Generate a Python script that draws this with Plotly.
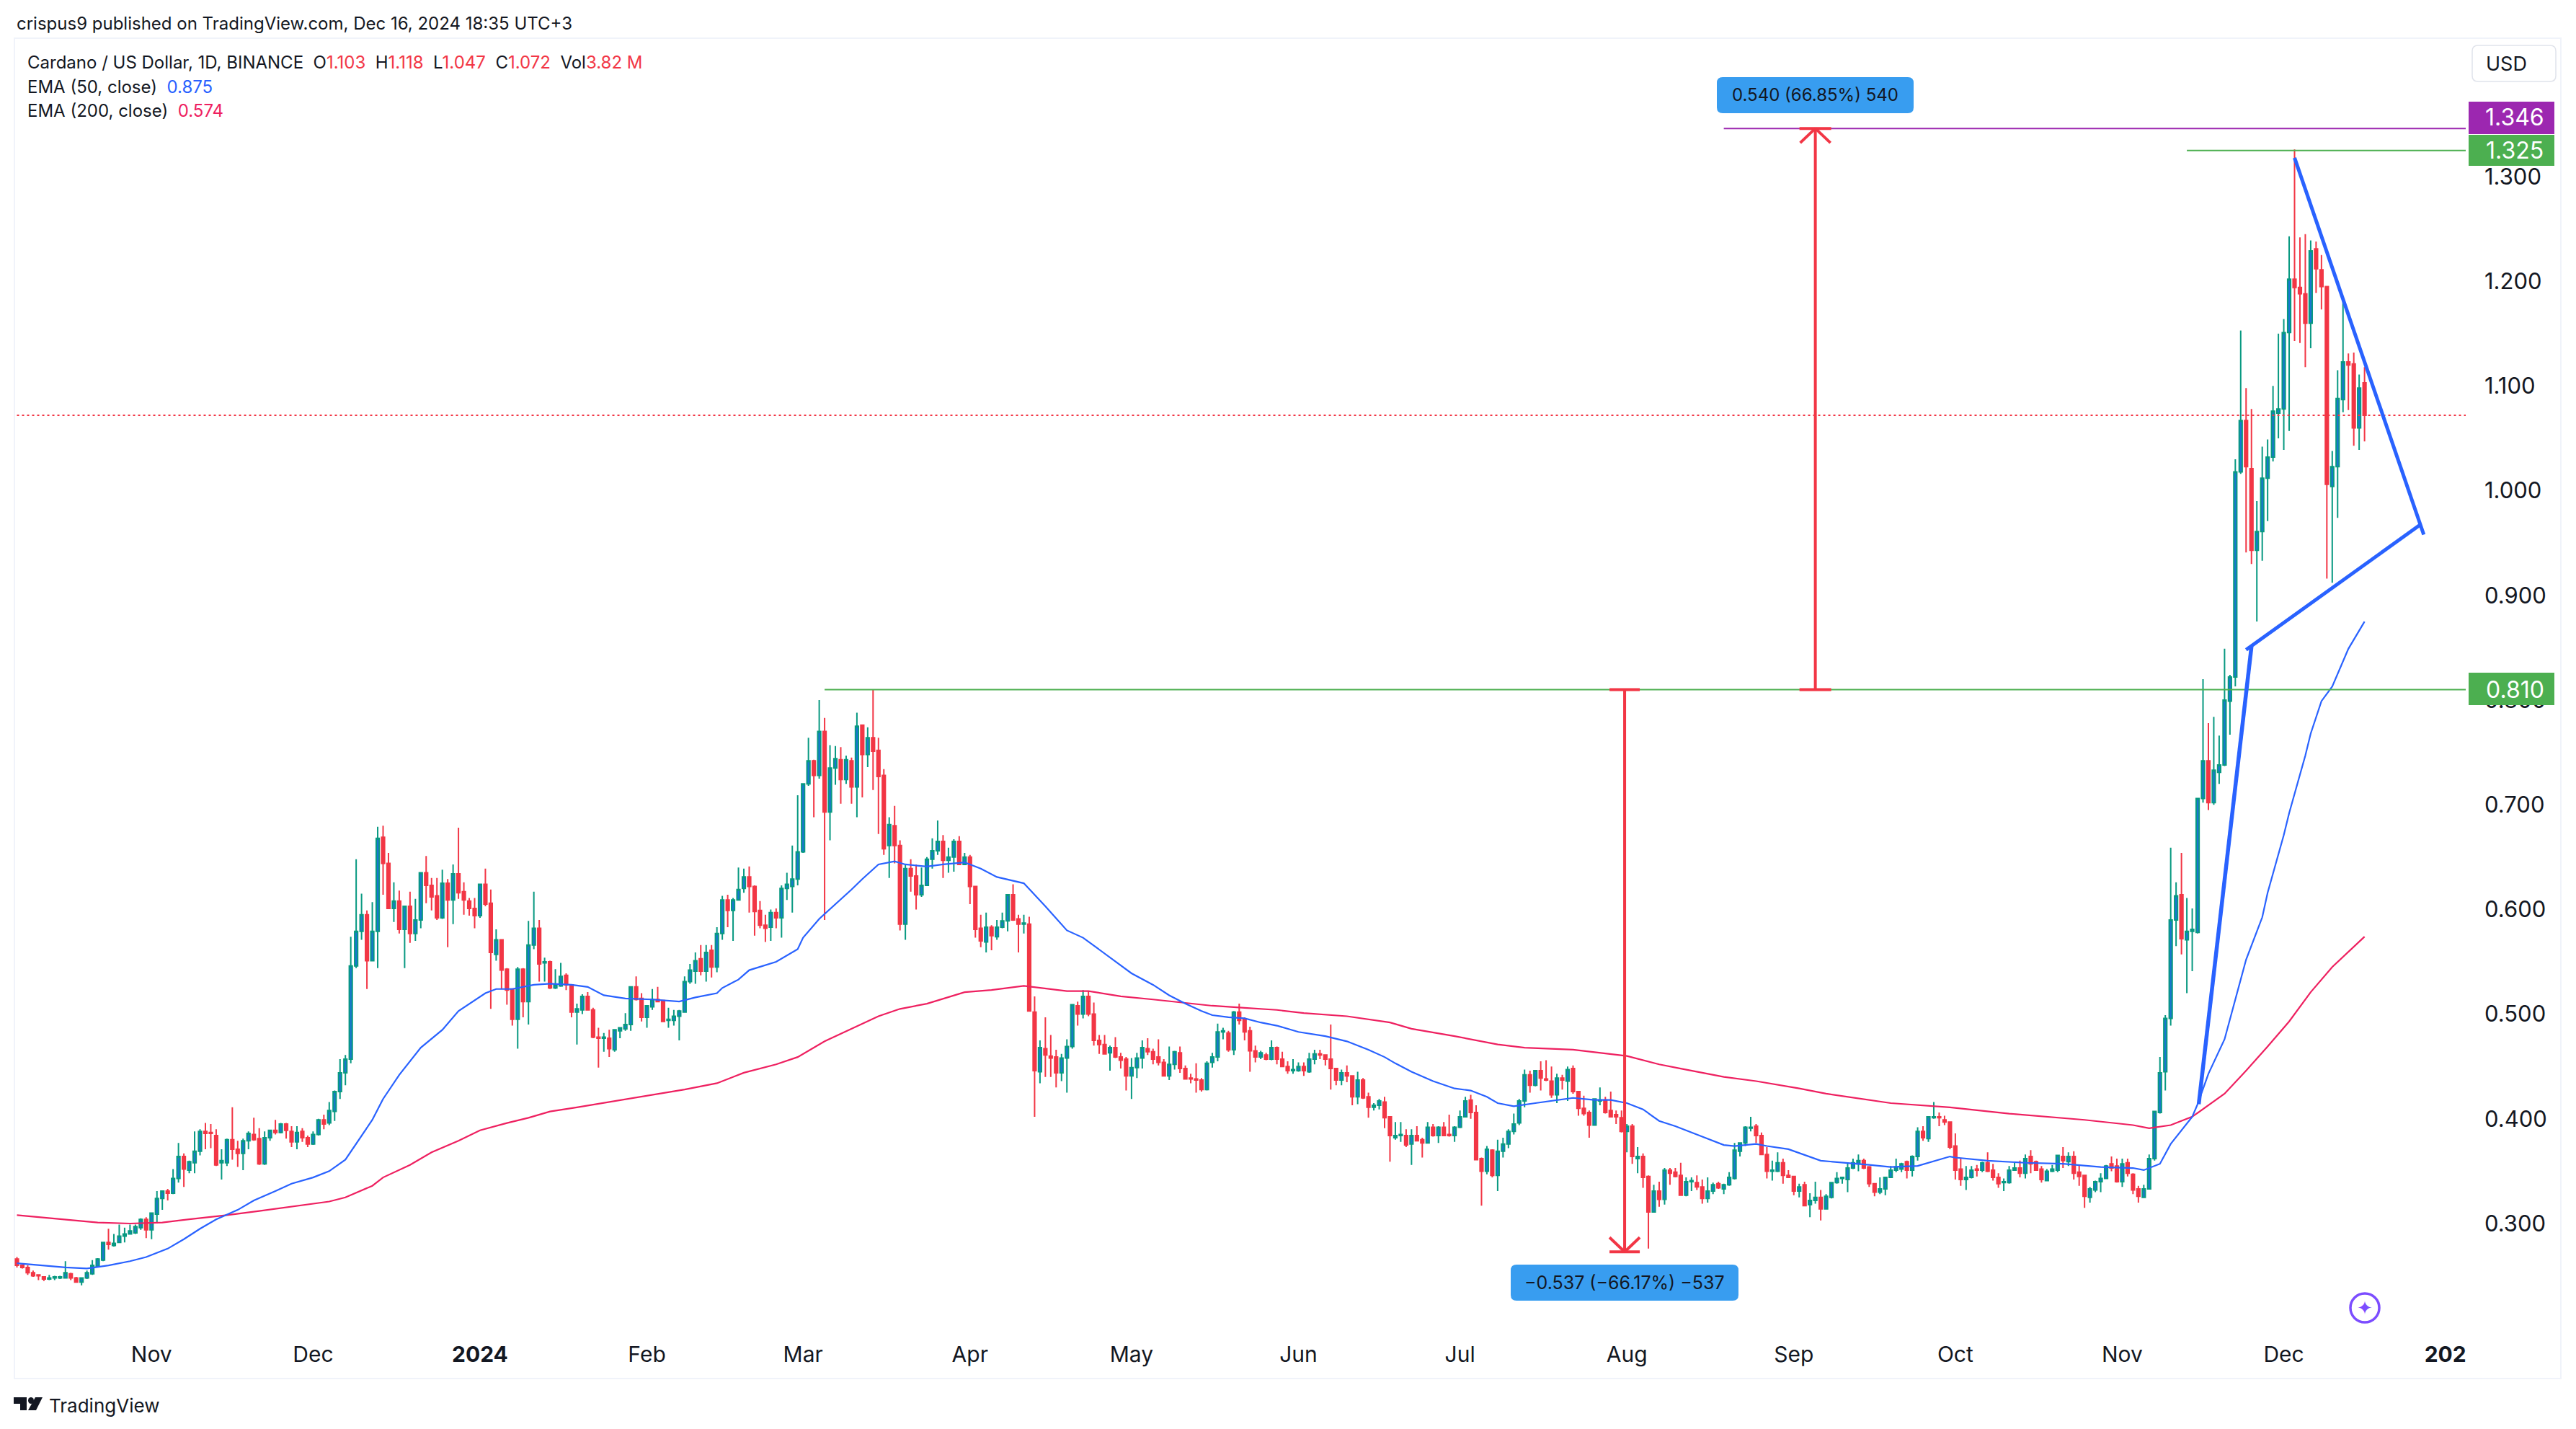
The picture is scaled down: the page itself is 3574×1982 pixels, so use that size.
import pandas as pd
import plotly.graph_objects as go

# Daily candles (open, high, low, close), one list per calendar month
oct_2023 = [(.266,.268,.258,.260),(.26,.261,.257,.258),(.258,.26,.251,.253),(.253,.255,.249,.25),(.251,.251,.246,.25),
(.249,.249,.245,.247),(.247,.251,.246,.248),(.248,.25,.246,.249),(.248,.25,.247,.249),(.248,.264,.248,.253),
(.252,.253,.246,.248),(.248,.249,.244,.244),(.244,.248,.241,.248),(.248,.255,.247,.253),(.252,.265,.251,.26),
(.259,.267,.258,.266),(.265,.282,.264,.282),(.282,.295,.275,.28),(.279,.29,.278,.281),(.282,.299,.282,.288),
(.288,.296,.282,.29),(.29,.299,.29,.293),(.291,.299,.29,.297),(.296,.305,.294,.304),(.304,.306,.286,.294)]
nov_2023 = [(.294,.31,.285,.31),(.309,.331,.30,.324),(.324,.331,.313,.331),(.331,.333,.322,.329),(.329,.352,.328,.343),
(.343,.377,.339,.364),(.364,.367,.335,.352),(.351,.36,.348,.359),(.358,.388,.348,.369),(.369,.39,.365,.388),
(.388,.396,.371,.386),(.387,.395,.372,.386),(.384,.39,.355,.356),(.358,.371,.342,.36),(.358,.381,.355,.38),
(.38,.411,.361,.371),(.371,.379,.354,.367),(.367,.381,.351,.379),(.379,.388,.371,.386),(.385,.401,.379,.38),
(.381,.391,.356,.357),(.357,.388,.356,.382),(.382,.389,.379,.389),(.389,.399,.385,.387),(.387,.396,.386,.395),
(.395,.396,.381,.389),(.388,.393,.373,.378),(.378,.393,.371,.387),(.388,.391,.378,.382),(.382,.384,.373,.376)]
dec_2023 = [(.376,.388,.375,.385),(.385,.40,.384,.399),(.399,.404,.39,.395),(.396,.416,.394,.408),(.407,.427,.398,.426),
(.426,.457,.419,.444),(.444,.461,.432,.457),(.457,.574,.453,.546),(.546,.648,.544,.579),(.579,.615,.571,.595),
(.595,.599,.524,.551),(.551,.607,.551,.579),(.579,.679,.544,.668),(.669,.68,.614,.644),(.644,.654,.601,.601),
(.601,.626,.588,.608),(.608,.618,.577,.581),(.581,.603,.544,.603),(.603,.617,.568,.577),(.577,.61,.57,.59),
(.59,.635,.582,.635),(.635,.651,.606,.623),(.623,.63,.599,.612),(.613,.63,.59,.592),(.592,.638,.591,.625),
(.625,.629,.564,.609),(.609,.643,.586,.634),(.634,.678,.61,.616),(.617,.626,.595,.609),(.608,.611,.594,.601),(.601,.611,.582,.594)]
jan_2024 = [(.594,.624,.592,.624),(.624,.639,.603,.605),(.606,.619,.505,.559),(.557,.581,.551,.571),(.571,.571,.524,.542),
(.543,.544,.509,.523),(.524,.524,.489,.495),(.495,.545,.467,.543),(.543,.544,.497,.512),(.512,.589,.49,.566),
(.566,.617,.562,.582),(.582,.59,.531,.548),(.549,.554,.531,.55),(.55,.551,.524,.525),(.525,.543,.524,.528),
(.527,.549,.526,.536),(.537,.539,.523,.528),(.528,.528,.497,.502),(.502,.51,.471,.505),(.504,.519,.50,.517),
(.517,.521,.504,.504),(.504,.506,.477,.478),(.478,.487,.449,.477),(.477,.482,.464,.478),(.477,.485,.459,.467),
(.466,.485,.464,.485),(.484,.487,.477,.487),(.486,.501,.484,.49),(.49,.526,.484,.526),(.526,.536,.513,.514),(.515,.52,.493,.497)]
feb_2024 = [(.497,.508,.487,.508),(.507,.524,.504,.514),(.514,.526,.512,.512),(.513,.513,.493,.493),(.494,.506,.487,.495),
(.494,.504,.489,.498),(.498,.504,.475,.503),(.502,.536,.502,.531),(.531,.548,.529,.542),(.541,.559,.529,.551),
(.553,.566,.537,.541),(.541,.566,.531,.559),(.561,.566,.535,.545),(.545,.583,.54,.577),(.577,.613,.571,.609),
(.609,.614,.583,.599),(.599,.611,.57,.609),(.609,.64,.609,.619),(.62,.639,.616,.631),(.631,.641,.597,.622),
(.622,.623,.575,.598),(.599,.608,.582,.585),(.585,.595,.569,.582),(.583,.60,.57,.597),(.597,.601,.582,.592),
(.592,.623,.573,.62),(.62,.635,.609,.624),(.622,.661,.597,.629),(.629,.709,.623,.655)]
mar_2024 = [(.655,.72,.654,.72),(.72,.764,.718,.742),(.742,.743,.688,.728),(.728,.80,.725,.77),(.77,.783,.59,.693),
(.693,.757,.666,.735),(.735,.756,.719,.744),(.743,.755,.701,.724),(.724,.747,.72,.743),(.742,.745,.701,.717),
(.717,.788,.688,.775),(.776,.776,.707,.748),(.748,.774,.736,.764),(.764,.81,.714,.751),(.752,.764,.672,.727),
(.728,.734,.652,.658),(.661,.688,.63,.681),(.68,.699,.644,.661),(.661,.666,.58,.586),(.586,.643,.571,.639),
(.639,.648,.617,.632),(.632,.643,.6,.614),(.614,.64,.612,.623),(.623,.65,.623,.648),(.648,.668,.639,.656),
(.656,.685,.652,.665),(.665,.671,.63,.647),(.647,.659,.635,.65),(.65,.667,.636,.665),(.665,.67,.643,.643),(.643,.654,.643,.65)]
apr_2024 = [(.65,.652,.605,.622),(.622,.622,.573,.581),(.582,.595,.564,.57),(.569,.597,.559,.583),(.583,.585,.561,.575),
(.574,.59,.571,.583),(.583,.597,.582,.589),(.589,.614,.579,.614),(.614,.624,.589,.59),(.591,.595,.559,.586),
(.586,.595,.577,.587),(.586,.593,.503,.503),(.502,.517,.402,.446),(.445,.475,.434,.468),(.467,.497,.44,.461),
(.46,.48,.44,.458),(.459,.466,.43,.444),(.444,.462,.436,.458),(.458,.476,.425,.469),(.469,.509,.467,.509),
(.508,.512,.489,.50),(.50,.523,.496,.517),(.517,.522,.498,.50),(.50,.511,.47,.475),(.475,.48,.462,.471),
(.471,.48,.462,.462),(.463,.47,.446,.468),(.468,.478,.458,.459),(.459,.463,.448,.456),(.457,.459,.427,.441)]
may_2024 = [(.441,.458,.419,.449),(.449,.463,.439,.458),(.458,.475,.448,.468),(.467,.477,.461,.464),(.464,.467,.452,.457),
(.459,.476,.451,.454),(.454,.457,.441,.441),(.441,.469,.437,.452),(.452,.465,.447,.464),(.463,.469,.444,.448),
(.448,.451,.438,.438),(.439,.443,.434,.438),(.438,.453,.425,.437),(.437,.439,.426,.428),(.428,.455,.427,.453),
(.454,.463,.449,.459),(.459,.491,.455,.483),(.483,.487,.476,.484),(.482,.484,.464,.466),(.466,.503,.461,.502),
(.502,.51,.49,.494),(.495,.497,.475,.483),(.484,.488,.445,.465),(.465,.47,.454,.459),(.459,.465,.457,.463),
(.461,.463,.456,.457),(.457,.475,.456,.468),(.468,.469,.452,.457),(.457,.464,.450,.450),(.450,.455,.443,.446),(.446,.457,.443,.447)]
jun_2024 = [(.446,.454,.445,.45),(.45,.454,.441,.446),(.445,.463,.444,.457),(.457,.466,.452,.462),(.462,.466,.457,.461),
(.461,.461,.451,.457),(.457,.490,.428,.448),(.448,.448,.432,.437),(.437,.447,.432,.444),(.444,.451,.435,.441),
(.441,.441,.413,.421),(.421,.445,.414,.437),(.437,.439,.419,.42),(.421,.425,.401,.411),(.411,.415,.408,.413),
(.413,.419,.409,.417),(.416,.421,.391,.401),(.402,.402,.359,.384),(.382,.397,.38,.384),(.384,.397,.378,.385),
(.384,.39,.373,.375),(.376,.39,.356,.384),(.384,.393,.379,.379),(.38,.382,.363,.377),(.377,.397,.377,.392),
(.392,.395,.383,.384),(.384,.393,.377,.392),(.392,.397,.384,.384),(.385,.404,.383,.384),(.384,.393,.378,.392)]
jul_2024 = [(.392,.408,.391,.402),(.402,.421,.402,.417),(.418,.423,.40,.406),(.406,.413,.361,.361),(.362,.363,.317,.35),
(.35,.374,.347,.371),(.37,.371,.344,.346),(.346,.38,.331,.369),(.369,.382,.363,.376),(.376,.39,.372,.388),
(.388,.405,.385,.395),(.396,.419,.394,.417),(.417,.447,.411,.442),(.442,.446,.425,.432),(.432,.446,.431,.446),
(.446,.455,.427,.439),(.438,.456,.436,.437),(.436,.45,.42,.423),(.423,.443,.415,.439),(.439,.442,.428,.437),
(.436,.45,.417,.447),(.448,.451,.424,.426),(.426,.426,.403,.41),(.41,.422,.403,.405),(.406,.408,.382,.394),
(.394,.419,.394,.419),(.417,.43,.413,.418),(.418,.421,.405,.406),(.408,.426,.402,.402),(.404,.408,.395,.402),(.401,.408,.387,.388)]
aug_2024 = [(.388,.395,.368,.393),(.393,.395,.357,.364),(.362,.373,.348,.364),(.364,.367,.334,.344),(.345,.346,.276,.311),
(.311,.337,.311,.331),(.331,.34,.316,.323),(.323,.353,.318,.351),(.351,.353,.337,.348),(.349,.353,.344,.345),
(.346,.358,.327,.327),(.327,.344,.326,.34),(.34,.344,.331,.341),(.339,.346,.332,.335),(.335,.342,.319,.324),
(.324,.344,.32,.331),(.331,.339,.328,.337),(.338,.34,.333,.334),(.333,.338,.328,.337),(.337,.349,.336,.344),
(.343,.377,.342,.37),(.369,.377,.364,.377),(.377,.393,.374,.392),(.391,.402,.388,.392),(.393,.395,.377,.384),
(.384,.387,.366,.366),(.366,.373,.343,.35),(.35,.36,.341,.351),(.35,.368,.349,.358),(.358,.362,.338,.346),(.346,.351,.344,.344)]
sep_2024 = [(.345,.345,.327,.331),(.331,.338,.325,.335),(.337,.34,.317,.317),(.318,.329,.306,.322),(.322,.34,.319,.325),
(.325,.332,.303,.314),(.314,.328,.314,.326),(.325,.339,.324,.339),(.339,.349,.338,.343),(.343,.344,.338,.344),
(.342,.358,.33,.353),(.353,.362,.352,.358),(.357,.366,.35,.36),(.36,.362,.352,.353),(.354,.355,.335,.338),
(.338,.338,.326,.33),(.33,.344,.328,.333),(.333,.344,.327,.344),(.344,.355,.344,.351),(.351,.362,.349,.354),
(.352,.358,.349,.357),(.359,.36,.343,.351),(.351,.365,.345,.364),(.364,.392,.36,.388),(.388,.393,.379,.382),
(.381,.402,.378,.402),(.401,.416,.400,.402),(.402,.406,.393,.401),(.399,.403,.394,.397),(.397,.397,.371,.373)]
oct_2024 = [(.374,.386,.342,.351),(.352,.362,.336,.342),(.342,.355,.332,.344),(.344,.355,.343,.351),(.352,.356,.345,.351),
(.351,.359,.349,.358),(.358,.368,.349,.35),(.351,.357,.341,.344),(.344,.348,.334,.338),(.339,.343,.331,.34),
(.339,.355,.338,.351),(.351,.358,.351,.353),(.353,.36,.344,.348),(.348,.366,.343,.362),(.364,.37,.348,.357),
(.359,.36,.351,.351),(.352,.355,.339,.342),(.341,.352,.341,.35),(.350,.356,.349,.352),(.351,.365,.349,.365),
(.364,.373,.353,.36),(.359,.368,.355,.364),(.364,.369,.342,.348),(.349,.356,.336,.345),(.346,.346,.315,.326),
(.325,.335,.32,.333),(.332,.341,.33,.34),(.34,.348,.33,.343),(.343,.356,.343,.355),(.357,.364,.35,.353),(.355,.362,.339,.34)]
nov_2024 = [(.34,.362,.335,.357),(.358,.362,.345,.348),(.347,.348,.328,.332),(.333,.336,.32,.326),(.325,.337,.325,.333),
(.333,.366,.333,.362),(.362,.407,.36,.407),(.406,.459,.405,.444),(.445,.499,.427,.496),(.496,.659,.489,.59),
(.59,.626,.565,.613),(.614,.654,.557,.572),(.571,.611,.52,.579),(.579,.601,.541,.581),(.578,.706,.577,.706),
(.706,.82,.702,.742),(.742,.778,.695,.702),(.702,.784,.70,.733),(.731,.766,.72,.738),(.738,.849,.737,.80),
(.799,.824,.767,.822),(.822,1.03,.813,1.018),(1.018,1.153,1.016,1.067),(1.067,1.098,.941,1.023),(1.021,1.078,.93,.943),
(.943,.99,.875,.961),(.961,1.042,.933,1.012),(1.012,1.049,.971,1.032),(1.032,1.10,1.028,1.076),(1.074,1.15,1.05,1.078)]
dec_2024 = [(1.078,1.164,1.039,1.151),(1.151,1.243,1.057,1.202),(1.202,1.326,1.143,1.194),(1.194,1.242,1.141,1.188),
(1.188,1.245,1.118,1.16),(1.16,1.239,1.136,1.229),(1.231,1.238,1.189,1.212),(1.211,1.225,1.173,1.195),
(1.195,1.195,.916,1.006),(1.004,1.038,.912,1.023),(1.023,1.115,.974,1.088),(1.087,1.182,1.075,1.123),
(1.123,1.131,1.077,1.12),(1.121,1.132,1.043,1.06),(1.06,1.111,1.039,1.098),(1.103,1.118,1.047,1.072)]

first_day = "2023-10-07"

# Moving averages: day number counted from first_day, and value
ema50_index = [0,4,9,13,17,21,24,28,31,34,37,41,44,48,51,55,58,61,63,66,68,71,75,79,82,85,87,89,92,96,99,103,106,109,113,118,123,126,130,131,
134,136,141,145,146,149,154,155,157,160,163,165,169,172,176,179,182,187,191,195,198,203,207,211,214,217,220,222,225,228,231,234,238,243,247,
251,254,256,259,263,267,270,273,275,278,282,286,289,293,296,299,302,305,308,313,317,319,323,325,329,335,340,344,348,353,359,360,366,373,380,
387,393,395,398,400,404,405,407,410,412,414,417,418,421,422,425,426,428,430,433,436]
ema50_values = [.262,.26,.258,.257,.26,.264,.268,.276,.285,.295,.304,.313,.322,.331,.338,.344,.35,.361,.376,.399,.419,.442,.468,.485,.503,.513,
.52,.524,.524,.528,.529,.528,.526,.518,.515,.514,.512,.516,.52,.525,.533,.542,.55,.562,.573,.591,.614,.619,.629,.643,.646,.643,.641,.643,.645,
.639,.631,.625,.603,.58,.573,.554,.539,.528,.518,.51,.503,.499,.497,.496,.492,.489,.483,.479,.474,.466,.459,.453,.445,.436,.429,.427,.421,.415,
.412,.415,.418,.42,.418,.418,.415,.409,.398,.393,.383,.375,.374,.376,.374,.371,.36,.358,.356,.354,.355,.364,.363,.36,.358,.357,.354,.353,.351,
.357,.376,.402,.414,.443,.476,.514,.552,.5925,.616,.671,.692,.747,.768,.799,.813,.849,.875]

ema200_index = [0,6,15,21,27,32,39,45,51,58,61,66,68,73,77,82,86,91,95,99,104,111,118,124,130,135,141,145,150,155,160,164,169,176,181,187,
195,199,205,211,217,222,228,234,239,247,255,259,267,270,275,280,289,299,305,309,317,323,331,336,340,348,359,370,384,393,396,400,404,410,414,
418,422,426,430,434,436]
ema200_values = [.308,.305,.301,.3,.301,.304,.308,.312,.316,.321,.325,.336,.344,.356,.368,.379,.389,.396,.401,.407,.411,.417,.423,.428,.434,
.444,.452,.459,.474,.486,.498,.505,.51,.521,.523,.527,.522,.522,.517,.514,.511,.508,.506,.504,.501,.498,.492,.486,.479,.476,.471,.468,.466,
.46,.452,.448,.44,.436,.429,.424,.421,.415,.411,.405,.399,.394,.391,.394,.402,.424,.446,.469,.493,.521,.545,.564,.574]

price_ticks = [0.3,0.4,0.5,0.6,0.7,0.8,0.9,1.0,1.1,1.2,1.3]
month_ticks = ["2023-11-01","2023-12-01","2024-01-01","2024-02-01","2024-03-01","2024-04-01","2024-05-01","2024-06-01","2024-07-01","2024-08-01",
"2024-09-01","2024-10-01","2024-11-01","2024-12-01","2024-12-31"]
month_labels = ["Nov","Dec","<b>2024</b>","Feb","Mar","Apr","May","Jun","Jul","Aug","Sep","Oct","Nov","Dec","<b>202</b>"]

last_price = 1.072
target_high = 1.346
recent_high = 1.325
range_level = 0.810
range_low = 0.273

INK = "#131722"; RED = "#f23645"; TEAL = "#089981"; BODY = "#1976d2"; BLUE = "#2962ff"; PINK = "#ee2060"
GREEN = "#4caf50"; PURPLE = "#9c27b0"; CHIP = "#389df0"; FONT = "Inter, Roboto, sans-serif"

months = [oct_2023,nov_2023,dec_2023,jan_2024,feb_2024,mar_2024,apr_2024,may_2024,jun_2024,jul_2024,aug_2024,sep_2024,oct_2024,nov_2024,dec_2024]
rows = [r for m in months for r in m]
opens, highs, lows, closes = zip(*rows)
days = pd.date_range(first_day, periods=len(rows), freq="D")
ema50_dates = [days[i] for i in ema50_index]
ema200_dates = [days[i] for i in ema200_index]

# page layout of the plot rectangle
W, H = 3574, 1982
L, R, T, B = 20, 3421, 53, 1848
def px(x): return (x - L) / (R - L)
def py(y): return (B - y) / (B - T)
def round_rect(x0, y0, x1, y1, r):
    a, b, c, d = px(x0), py(y0), px(x1), py(y1)
    rx, ry = r / (R - L), r / (B - T)
    return (f"M{a+rx},{b} L{c-rx},{b} Q{c},{b} {c},{b-ry} L{c},{d+ry} Q{c},{d} {c-rx},{d} "
            f"L{a+rx},{d} Q{a},{d} {a},{d+ry} L{a},{b-ry} Q{a},{b} {a+rx},{b} Z")
def text(x, y, s, size=24, color=INK, anchor="left", family=FONT):
    return dict(xref="paper", yref="paper", x=px(x), y=py(y), text=s, showarrow=False, xanchor=anchor, yanchor="middle",
                font=dict(family=family, size=size, color=color), align="left")
def seg(x0, y0, x1, y1, color, width, dash="solid"):
    return dict(type="line", xref="x", yref="y", x0=x0, y0=y0, x1=x1, y1=y1, line=dict(color=color, width=width, dash=dash))
def pix(xa, ya, x0, y0, x1, y1, color, width):
    return dict(type="line", xref="x", yref="y", xsizemode="pixel", ysizemode="pixel", xanchor=xa, yanchor=ya,
                x0=x0, y0=y0, x1=x1, y1=y1, line=dict(color=color, width=width))

fig = go.Figure()
fig.add_trace(go.Candlestick(x=days, open=opens, high=highs, low=lows, close=closes, whiskerwidth=0,
    increasing=dict(line=dict(color=TEAL, width=2), fillcolor=BODY),
    decreasing=dict(line=dict(color=RED, width=2), fillcolor=RED), hoverinfo="skip"))
fig.add_trace(go.Scatter(x=ema200_dates, y=ema200_values, mode="lines", line=dict(color=PINK, width=2.2), hoverinfo="skip"))
fig.add_trace(go.Scatter(x=ema50_dates, y=ema50_values, mode="lines", line=dict(color=BLUE, width=2.2), hoverinfo="skip"))

axis_end = "2025-01-03 19:00"
up_x, down_x = "2024-09-05", "2024-07-31 14:00"
shapes = [
    dict(type="rect", xref="paper", yref="paper", x0=px(20), x1=px(3553), y0=py(53), y1=py(1912), line=dict(color="#f0f3fa", width=2), layer="below"),
    seg(first_day, last_price, axis_end, last_price, RED, 2, "3px,4px"),
    seg("2024-08-19", target_high, axis_end, target_high, PURPLE, 2),
    seg("2024-11-13", recent_high, axis_end, recent_high, GREEN, 2),
    seg("2024-03-05", range_level, axis_end, range_level, GREEN, 2),
    seg(up_x, range_level, up_x, target_high, RED, 4),
    pix(up_x, target_high, -22, 0, 22, 0, RED, 4), pix(up_x, target_high, -21, -20, 0, 0, RED, 4), pix(up_x, target_high, 21, -20, 0, 0, RED, 4),
    pix(up_x, range_level, -22, 0, 22, 0, RED, 4),
    seg(down_x, range_level, down_x, range_low, RED, 4),
    pix(down_x, range_level, -21, 0, 21, 0, RED, 4),
    pix(down_x, range_low, -21, 0, 21, 0, RED, 4), pix(down_x, range_low, -21, 20, 0, 0, RED, 4), pix(down_x, range_low, 21, 20, 0, 0, RED, 4),
    seg("2024-11-15 05:00", .414, "2024-11-25", .851, BLUE, 5.5),
    seg("2024-11-24", .848, "2024-12-26 05:00", .967, BLUE, 5),
    seg("2024-12-03", 1.318, "2024-12-27", .958, BLUE, 5),
    dict(type="path", xref="paper", yref="paper", path=round_rect(2382, 107, 2655, 157, 8), fillcolor=CHIP, line=dict(width=0)),
    dict(type="path", xref="paper", yref="paper", path=round_rect(2096, 1754, 2412, 1804, 8), fillcolor=CHIP, line=dict(width=0)),
    dict(type="path", xref="paper", yref="paper", path=round_rect(3430, 63, 3546, 113, 8), fillcolor="white", line=dict(color="#e0e3eb", width=1.5)),
    dict(type="circle", xref="paper", yref="paper", x0=px(3261), x1=px(3301), y0=py(1834), y1=py(1794), line=dict(color="#7c4dff", width=3.5)),
    dict(type="rect", xref="paper", yref="paper", x0=px(3425), x1=px(3544), y0=py(141), y1=py(186), fillcolor=PURPLE, line=dict(width=0)),
    dict(type="rect", xref="paper", yref="paper", x0=px(3425), x1=px(3544), y0=py(187), y1=py(230), fillcolor=GREEN, line=dict(width=0)),
    dict(type="rect", xref="paper", yref="paper", x0=px(3425), x1=px(3544), y0=py(933), y1=py(978), fillcolor=GREEN, line=dict(width=0)),
    # TradingView mark
    dict(type="path", xref="paper", yref="paper", fillcolor=INK, line=dict(width=0),
         path=f"M{px(19)},{py(1938)} L{px(37)},{py(1938)} L{px(37)},{py(1956)} L{px(28)},{py(1956)} L{px(28)},{py(1947)} L{px(19)},{py(1947)} Z"),
    dict(type="circle", xref="paper", yref="paper", x0=px(39), x1=px(47), y0=py(1947), y1=py(1938), fillcolor=INK, line=dict(width=0)),
    dict(type="path", xref="paper", yref="paper", fillcolor=INK, line=dict(width=0),
         path=f"M{px(49)},{py(1938)} L{px(59)},{py(1938)} L{px(50)},{py(1956)} L{px(39)},{py(1956)} Z"),
]

def red(s): return f"<span style='color:{RED}'>{s}</span>"
nb = "\u00a0"
annotations = [
    text(21, 33, "crispus9 published on TradingView.com, Dec 16, 2024 18:35 UTC+3", 24),
    text(36, 86, f"Cardano / US Dollar, 1D, BINANCE{nb}{nb}O{red('1.103')}{nb}{nb}H{red('1.118')}{nb}{nb}L{red('1.047')}{nb}{nb}C{red('1.072')}{nb}{nb}Vol{red('3.82'+nb+'M')}", 24),
    text(36, 120, f"EMA (50, close){nb}{nb}<span style='color:{BLUE}'>0.875</span>", 24),
    text(36, 154, f"EMA (200, close){nb}{nb}<span style='color:{PINK}'>0.574</span>", 24),
    text(3477, 88, "USD", 27, INK, "center"),
    text(3489, 163, "1.346", 32, "white", "center"),
    text(3489, 208, "1.325", 32, "white", "center"),
    text(3489, 956, "0.810", 32, "white", "center"),
    text(2518, 132, "0.540 (66.85%) 540", 24, INK, "center"),
    text(2254, 1779, "\u22120.537 (\u221266.17%) \u2212537", 25, INK, "center"),
    text(3281, 1814, "\u2726", 26, "#7c4dff", "center", "DejaVu Sans"),
    text(66, 1949, "TradingView", 26),
]

fig.update_layout(
    width=W, height=H, margin=dict(l=L, r=W - R, t=T, b=H - B, pad=0), showlegend=False,
    paper_bgcolor="white", plot_bgcolor="white", boxgap=0.2, boxgroupgap=0.3,
    shapes=shapes, annotations=annotations, font=dict(family=FONT, color=INK),
    xaxis=dict(type="date", range=["2023-10-06 12:43", axis_end], rangeslider=dict(visible=False), showgrid=False, zeroline=False,
               tickmode="array", tickvals=month_ticks, ticktext=month_labels, ticks="", showline=False,
               tickfont=dict(family=FONT, size=30, color=INK), ticklabelstandoff=10),
    yaxis=dict(side="right", range=[0.1960, 1.4322], showgrid=False, zeroline=False, tickmode="array", tickvals=price_ticks,
               tickformat=".3f", ticks="", showline=False, tickfont=dict(family=FONT, size=31, color=INK), ticklabelstandoff=25),
)
fig.write_html("out.html", config={"displayModeBar": False},
               post_script="document.body.style.margin='0';document.documentElement.style.overflow='hidden';")
